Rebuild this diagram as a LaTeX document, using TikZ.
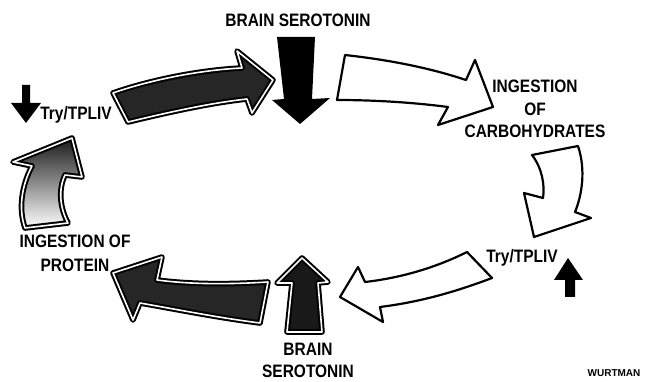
\documentclass[tikz,border=0pt]{standalone}
\usepackage{fontspec}
\newfontfamily\cyclefont[FakeStretch=0.86]{Liberation Sans}
\newfontfamily\signfont{Liberation Sans}

\tikzset{
  plainarrow/.style={draw=black, line width=2.2pt, fill=white},
  darkarrow/.style={draw=black, line width=2pt, double=white, double distance=1.6pt, fill=black!85},
  solidarrow/.style={fill=black},
  lbl/.style={font=\cyclefont\bfseries\fontsize{18}{22.5}\selectfont, inner sep=0pt, align=center, anchor=base}
}

\begin{document}
\begin{tikzpicture}[x=1pt, y=-1pt, line cap=round, line join=round]

\useasboundingbox (0,0) rectangle (659,382);

% Try/TPLIV -> brain serotonin
\draw[darkarrow]
    (113,93) -- (128,122) .. controls (170,112) and (210,103) .. (247,99)
    -- (252,113) -- (273,80) -- (237,51) -- (242,68)
    .. controls (200,70) and (150,80) .. (113,93) -- cycle;

% brain serotonin, falling
\fill[solidarrow]
    (277,37) -- (315,37) -- (312,99) -- (330,98) -- (300,124)
    -- (272,100) -- (284,99) -- cycle;

% brain serotonin -> carbohydrates
\draw[plainarrow]
    (345,55) .. controls (390,60) and (430,68) .. (466,80)
    -- (475,60) -- (493,107) -- (438,125) -- (448,107)
    .. controls (410,102) and (370,100) .. (337,100) -- cycle;

% carbohydrates -> Try/TPLIV
\draw[plainarrow]
    (532,155) -- (578,146) .. controls (586,170) and (582,195) .. (575,212)
    -- (591,218) -- (534,237) -- (524,193) -- (543,198)
    .. controls (545,185) and (542,168) .. (532,155) -- cycle;

% Try/TPLIV -> brain serotonin
\draw[plainarrow]
    (467,252) -- (492,278) .. controls (455,292) and (420,302) .. (380,307)
    -- (383,322) -- (340,297) -- (358,267) -- (365,282)
    .. controls (400,278) and (435,268) .. (467,252) -- cycle;

% brain serotonin, rising
\draw[darkarrow, fill=black!90]
    (287,332) -- (292,283) -- (277,283) -- (302,258) -- (328,282)
    -- (318,283) -- (322,332) -- cycle;

% brain serotonin -> protein
\draw[darkarrow]
    (268,282) -- (260,323) .. controls (220,318) and (180,310) .. (140,303)
    -- (133,320) -- (113,273) -- (162,257) -- (157,280)
    .. controls (195,285) and (235,284) .. (268,282) -- cycle;

% protein -> Try/TPLIV
\draw[darkarrow, top color=black!90, bottom color=white]
    (25,228) .. controls (18,208) and (22,185) .. (32,166)
    -- (13,162) -- (72,138) -- (82,177) -- (65,175)
    .. controls (58,190) and (60,208) .. (68,223) -- cycle;

% small arrows beside Try/TPLIV
\fill[solidarrow]
    (22,85) -- (30,85) -- (30,103) -- (41,103) -- (26,123)
    -- (11,103) -- (22,103) -- cycle;
\fill[solidarrow]
    (565,297) -- (575,297) -- (575,280) -- (583,280) -- (568,258)
    -- (554,280) -- (565,280) -- cycle;

% labels (base = last line)
\node[lbl] (seroup) at (298,27) {BRAIN SEROTONIN};
\node[lbl] (carbo) at (535,138) {INGESTION\\OF\\CARBOHYDRATES};
\node[lbl] (tryleft) at (76,120) {Try/TPLIV};
\node[lbl] (tryright) at (522,262) {Try/TPLIV};
\node[lbl, font=\cyclefont\bfseries\fontsize{18}{21}\selectfont] (serodown) at (308,377) {BRAIN\\SEROTONIN};
\node[lbl, font=\cyclefont\bfseries\fontsize{18}{24}\selectfont] (protein) at (75,272) {INGESTION OF\\PROTEIN};
\node[font=\signfont\bfseries\fontsize{10}{12}\selectfont, inner sep=0pt, anchor=base] (sign) at (614,376) {WURTMAN};

\end{tikzpicture}
\end{document}
